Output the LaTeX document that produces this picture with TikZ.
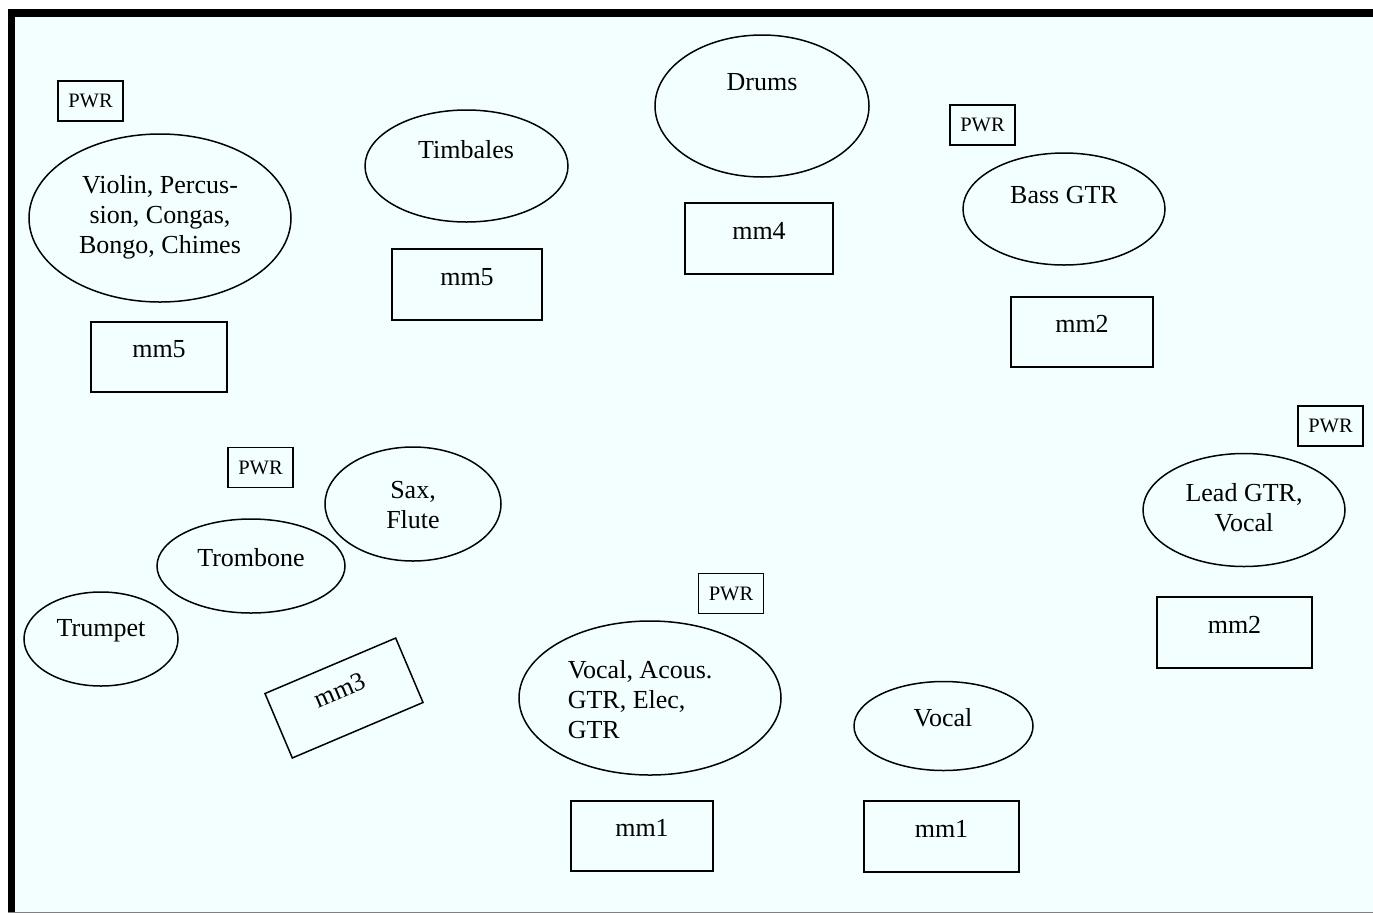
\documentclass[tikz,border=0pt]{standalone}
\usepackage{fontspec}
\setmainfont{Liberation Serif}
\usetikzlibrary{shapes.geometric}
\definecolor{fondo}{HTML}{F3FFFF}

\begin{document}
\begin{tikzpicture}[x=1pt, y=-1pt, line width=1.5pt,
  font=\fontsize{26}{30}\selectfont,
  inst/.style={draw, ellipse, inner sep=0pt},
  mixer/.style={draw, rectangle, inner sep=0pt, text depth=16pt},
  pwr/.style={draw, rectangle, inner sep=0pt, minimum width=65pt, minimum height=40pt,
    font=\fontsize{20.5}{24}\selectfont},
  txt/.style={align=center, inner sep=0pt}]
  \useasboundingbox (0,0) rectangle (1373,914);
  % stage
  \fill[white] (0,0) rectangle (1373,914);
  \fill[fondo] (8,9) rectangle (1373,913);
  \fill[black] (8,9) rectangle (15,913);
  \fill[black] (8,9) rectangle (1373,17);
  \draw[gray, line width=1pt] (8,912.5) -- (1373,912.5);

  % left back
  \node[pwr] (pwrA) at (90.5,101) {PWR};
  \node[inst, minimum width=262pt, minimum height=168pt] (violin) at (160,218) {};
  \node[txt] (violint) at (160,217) {Violin, Percus-\\sion, Congas,\\Bongo, Chimes};
  \node[mixer, minimum width=136pt, minimum height=70pt] (mmA) at (159,357) {mm5};
  \node[inst, minimum width=203pt, minimum height=112pt] (timbales) at (466.5,166) {};
  \node[txt] (timbalest) at (466,150) {Timbales};
  \node[mixer, minimum width=150pt, minimum height=71pt] (mmB) at (467,284.5) {mm5};

  % drums and bass
  \node[inst, minimum width=214pt, minimum height=142pt] (drums) at (762,106) {};
  \node[txt] (drumst) at (762,82) {Drums};
  \node[mixer, minimum width=148pt, minimum height=71pt] (mmC) at (759,238.5) {mm4};
  \node[pwr] (pwrB) at (982.5,125) {PWR};
  \node[inst, minimum width=202pt, minimum height=112pt] (bass) at (1064,209) {};
  \node[txt] (basst) at (1064,195) {Bass GTR};
  \node[mixer, minimum width=142pt, minimum height=70pt] (mmD) at (1082,332) {mm2};

  % lead
  \node[pwr] (pwrC) at (1330.5,426) {PWR};
  \node[inst, minimum width=202pt, minimum height=113pt] (lead) at (1244,510) {};
  \node[txt] (leadt) at (1244,508) {Lead GTR,\\Vocal};
  \node[mixer, minimum width=155pt, minimum height=71pt] (mmE) at (1234.5,632.5) {mm2};

  % horns
  \node[pwr] (pwrD) at (260.5,467.5) {PWR};
  \node[inst, minimum width=176pt, minimum height=114pt] (sax) at (413,504) {};
  \node[txt] (saxt) at (413,505) {Sax,\\Flute};
  \node[inst, minimum width=188pt, minimum height=94pt] (trombone) at (251,566) {};
  \node[txt] (trombonet) at (251,558) {Trombone};
  \node[inst, minimum width=154pt, minimum height=94pt] (trumpet) at (101,639) {};
  \node[txt] (trumpett) at (101,631) {Trumpet};
  \node[draw, inner sep=0pt, minimum width=142pt, minimum height=70pt, rotate=23] (mmF) at (344,698) {};
  \node[txt, rotate=23] (mmFt) at (340,690) {mm3};

  % front
  \node[pwr] (pwrE) at (731,593.5) {PWR};
  \node[inst, minimum width=262pt, minimum height=154pt] (acous) at (650,698) {};
  \node[txt, align=left, anchor=west] (acoust) at (567,700) {Vocal, Acous.\\GTR, Elec,\\GTR};
  \node[mixer, minimum width=142pt, minimum height=70pt] (mmG) at (642,836) {mm1};
  \node[inst, minimum width=179pt, minimum height=89pt] (vocal) at (943.5,726) {};
  \node[txt] (vocalt) at (943,718) {Vocal};
  \node[mixer, minimum width=155pt, minimum height=71pt] (mmH) at (941.5,836.5) {mm1};
\end{tikzpicture}
\end{document}
